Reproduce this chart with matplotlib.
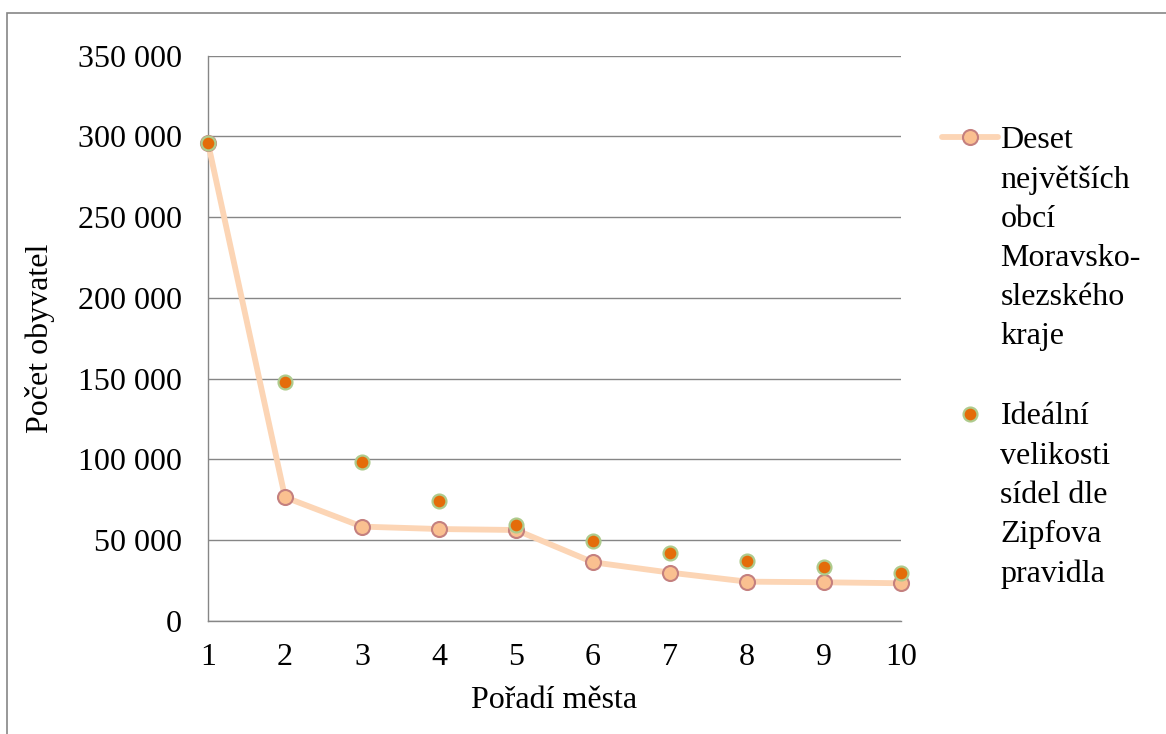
import matplotlib
matplotlib.use("Agg")
import matplotlib.pyplot as plt
from matplotlib.patches import Rectangle
from matplotlib.offsetbox import HPacker
from matplotlib.ticker import FuncFormatter

plt.rcParams.update({
    "font.family": ["Liberation Serif", "DejaVu Serif"],
    "font.size": 23,
})

# Data
poradi = [1, 2, 3, 4, 5, 6, 7, 8, 9, 10]
obce = [296000, 76500, 58300, 56800, 56200, 36200, 29800, 24200, 23800, 23200]
zipf = [296000, 148000, 98500, 74000, 59100, 49400, 42200, 37000, 33000, 29400]
y_ticks = [0, 50000, 100000, 150000, 200000, 250000, 300000, 350000]

label_obce = "Deset\nnejvětších\nobcí\nMoravsko-\nslezského\nkraje"
label_zipf = "Ideální\nvelikosti\nsídel dle\nZipfova\npravidla"

GRID = "#868686"

fig = plt.figure(figsize=(11.66, 7.34), dpi=100)
ax = fig.add_axes([208 / 1166, 1 - 620.7 / 734, (901 - 208) / 1166, (620.7 - 55.8) / 734])

ax.plot(poradi, obce, color="#FCD5B5", lw=4.2, marker="o", ms=10.8,
        mfc="#FAC090", mec="#C4807F", mew=1.5, label=label_obce, zorder=3,
        solid_capstyle="round", clip_on=False)
ax.plot(poradi, zipf, ls="none", marker="o", ms=10.0,
        mfc="#E46C0A", mec="#AECB8D", mew=1.6, label=label_zipf, zorder=4,
        clip_on=False)

ax.set_xlim(1, 10)
ax.set_ylim(0, 350000)
ax.set_xticks(poradi)
ax.set_yticks(y_ticks)
ax.yaxis.set_major_formatter(FuncFormatter(lambda v, p: f"{int(v):,}".replace(",", " ")))
ax.tick_params(length=0)
ax.tick_params(axis="y", pad=19)
ax.tick_params(axis="x", pad=16)

ax.grid(axis="y", color=GRID, lw=1.0)
ax.set_axisbelow(True)
for s in ["top", "right"]:
    ax.spines[s].set_visible(False)
for s in ["left", "bottom"]:
    ax.spines[s].set_color(GRID)
    ax.spines[s].set_linewidth(1.0)

ax.set_ylabel("Počet obyvatel", labelpad=16)
ax.set_xlabel("Pořadí města", labelpad=10)

leg = ax.legend(loc="upper left", bbox_to_anchor=(942 / 1166, 1 - 126 / 734),
                bbox_transform=fig.transFigure, frameon=False,
                handlelength=1.75, handletextpad=0.08, labelspacing=1.6,
                borderpad=0, borderaxespad=0)
for t in leg.get_texts():
    t.set_linespacing(1.46)
# put the keys next to the first line of each label, as Excel does
for child in leg.findobj(HPacker):
    child.align = "top"

# outer chart border (cropped on right and bottom)
fig.add_artist(Rectangle((7 / 1166, -0.1), 1.2, (734 - 13) / 734 + 0.1,
                         transform=fig.transFigure, fill=False,
                         edgecolor=GRID, lw=1.2))

fig.savefig("out.png", dpi=100)
